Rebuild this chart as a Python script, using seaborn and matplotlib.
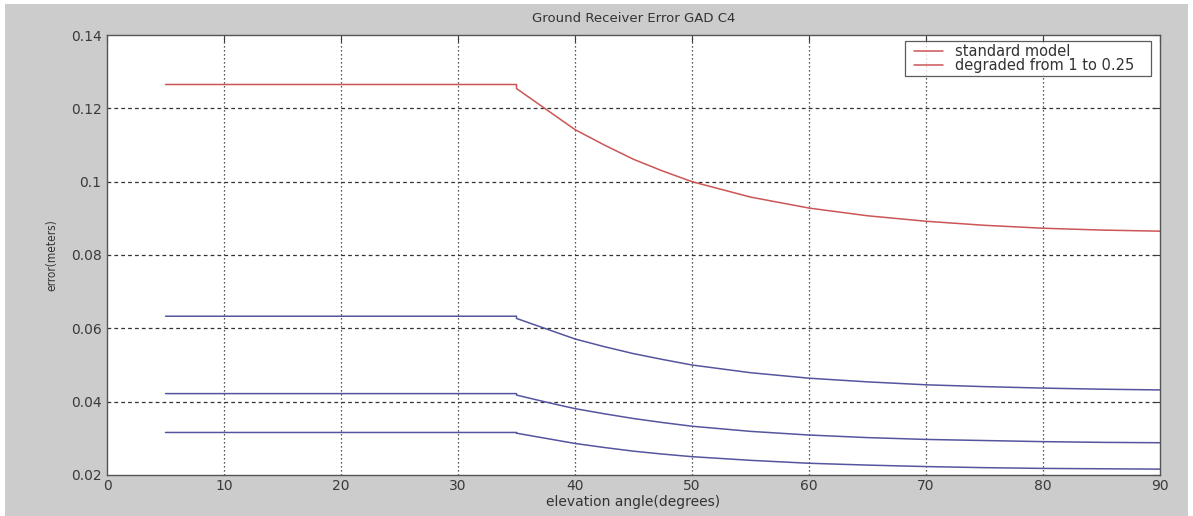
import matplotlib
matplotlib.use("Agg")
import matplotlib.pyplot as plt
from matplotlib.patches import Rectangle
from matplotlib.lines import Line2D
from matplotlib.legend_handler import HandlerLine2D
from matplotlib.ticker import FuncFormatter
import seaborn as sns
import pandas as pd

# ---- data ----
elev = [5, 35, 35, 37.5, 40, 42.5, 45, 47.5, 50, 55, 60, 65, 70, 75, 80, 85, 90]
standard = [0.1265, 0.1265, 0.1254, 0.1198, 0.1142, 0.1100, 0.1061, 0.1029, 0.1000,
            0.0958, 0.0928, 0.0907, 0.0892, 0.0881, 0.0873, 0.0868, 0.0865]
degraded_a = [0.0633, 0.0633, 0.0627, 0.0599, 0.0571, 0.0550, 0.0531, 0.0515, 0.0500,
              0.0479, 0.0464, 0.0454, 0.0446, 0.0441, 0.0437, 0.0434, 0.0432]
degraded_b = [0.0422, 0.0422, 0.0418, 0.0399, 0.0381, 0.0367, 0.0354, 0.0343, 0.0333,
              0.0319, 0.0309, 0.0302, 0.0297, 0.0294, 0.0291, 0.0289, 0.0288]
degraded_c = [0.0316, 0.0316, 0.0314, 0.0300, 0.0286, 0.0275, 0.0265, 0.0257, 0.0250,
              0.0240, 0.0232, 0.0227, 0.0223, 0.0220, 0.0218, 0.0217, 0.0216]
legend_labels = ["standard model", "degraded from 1 to 0.25"]
x_ticks = [0, 10, 20, 30, 40, 50, 60, 70, 80, 90]
y_ticks = [0.02, 0.04, 0.06, 0.08, 0.10, 0.12, 0.14]

sns.set_style("white")
plt.rcParams["font.family"] = ["DejaVu Sans"]

W, H = 1193, 516
fig = plt.figure(figsize=(W / 100, H / 100), dpi=100)
fig.patch.set_facecolor("white")
fig.patches.append(Rectangle((5 / W, 0), (1188 - 5) / W, (H - 4) / H,
                             transform=fig.transFigure, facecolor="#cccccc",
                             edgecolor="none", zorder=-10))

ax = fig.add_axes([107 / W, 1 - 475 / H, (1160 - 107) / W, (475 - 35) / H])
ax.set_facecolor("white")

RED = "#cc5555"
BLUE = "#55559f"

df = pd.DataFrame({"elev": elev, "std": standard, "a": degraded_a,
                   "b": degraded_b, "c": degraded_c})
sns.lineplot(data=df, x="elev", y="std", color=RED, lw=1.1, ax=ax,
             estimator=None, sort=False, legend=False)
for col in ["a", "b", "c"]:
    sns.lineplot(data=df, x="elev", y=col, color=BLUE, lw=1.1, ax=ax,
                 estimator=None, sort=False, legend=False)

ax.set_xlim(0, 90)
ax.set_ylim(0.02, 0.14)
ax.set_xticks(x_ticks)
ax.set_yticks(y_ticks)
ax.yaxis.set_major_formatter(FuncFormatter(lambda v, p: f"{v:g}"))

ax.grid(False)
for xv in x_ticks[1:-1]:
    ax.axvline(xv, color="#222222", lw=0.9, ls=(0, (1, 2.2)), zorder=0.5)
for yv in y_ticks[1:-1]:
    ax.axhline(yv, color="#333333", lw=0.9, ls=(0, (3, 2.5)), zorder=0.5)

ax.tick_params(direction="in", length=5, width=0.8, colors="#3a3a3a",
               labelsize=10, top=True, right=True, pad=4)
ax.tick_params(axis="x", pad=3)
for s in ax.spines.values():
    s.set_visible(True)
    s.set_color("#555555")
    s.set_linewidth(1.0)

ax.set_xlabel("elevation angle(degrees)", fontsize=10, color="#333333", labelpad=1)
ax.set_ylabel("error(meters)", fontsize=8.5, color="#333333", fontstretch="condensed",
              labelpad=9)
ax.set_title("Ground Receiver Error GAD C4", fontsize=9.5, color="#333333", pad=9)

handles = [Line2D([], [], color=RED, lw=1.1), Line2D([], [], color=RED, lw=1.1)]
labels_padded = [lab + "   " for lab in legend_labels]
leg = ax.legend(handles, labels_padded, loc="upper right",
                bbox_to_anchor=(0.9915, 0.987), borderaxespad=0, frameon=True,
                fancybox=False, edgecolor="#333333", fontsize=10.5,
                handlelength=2.4, labelspacing=-0.05, borderpad=0.2,
                handletextpad=0.82,
                handler_map={h: HandlerLine2D(xpad=0.41) for h in handles})
leg.get_frame().set_linewidth(0.9)
for t in leg.get_texts():
    t.set_color("#333333")

fig.savefig("out.png", dpi=100)
